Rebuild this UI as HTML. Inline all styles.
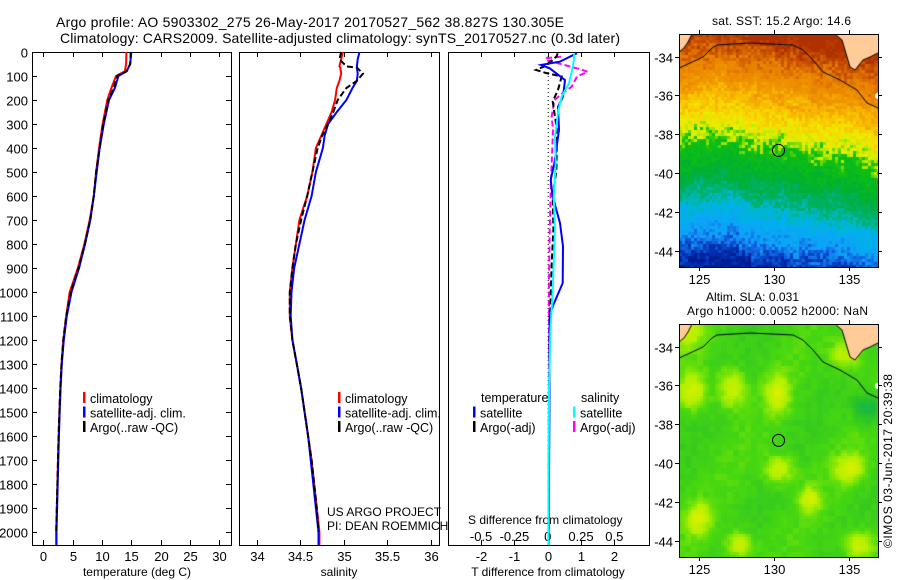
<!DOCTYPE html>
<html><head><meta charset="utf-8">
<style>
html,body{margin:0;padding:0;background:#fff;width:900px;height:580px;overflow:hidden}
#wrap{position:relative;width:900px;height:580px}
canvas{position:absolute}
svg{position:absolute;left:0;top:0}
text{font-family:"Liberation Sans",sans-serif;fill:#000}
</style></head><body>
<div id="wrap">
<canvas id="sst" width="199" height="233" style="left:679px;top:34px"></canvas>
<canvas id="sla" width="199" height="233" style="left:679px;top:324px"></canvas>
<svg id="svg" width="900" height="580" xmlns="http://www.w3.org/2000/svg">
<text x="56" y="27" font-size="14" textLength="508">Argo profile: AO 5903302_275 26-May-2017 20170527_562 38.827S 130.305E</text>
<text x="60" y="43" font-size="14" textLength="560">Climatology: CARS2009. Satellite-adjusted climatology: synTS_20170527.nc (0.3d later)</text>
<text x="712" y="25" font-size="12" textLength="139">sat. SST: 15.2 Argo: 14.6</text>
<text x="706" y="301" font-size="12" textLength="93">Altim. SLA: 0.031</text>
<text x="687" y="315" font-size="12" textLength="181">Argo h1000: 0.0052 h2000: NaN</text>
<text transform="translate(892,548) rotate(-90)" font-size="12" textLength="174">©IMOS 03-Jun-2017 20:39:38</text>
<text x="327" y="516" font-size="12">US ARGO PROJECT</text>
<text x="327" y="530" font-size="12">PI: DEAN ROEMMICH</text>
<text x="468" y="524" font-size="12">S difference from climatology</text>
<text x="137" y="576" font-size="12" text-anchor="middle">temperature (deg C)</text>
<text x="339" y="576" font-size="12" text-anchor="middle">salinity</text>
<text x="548" y="576" font-size="12" text-anchor="middle">T difference from climatology</text>
</svg>
</div>
<script>
// ---------- data ----------
const depthTicks=[0,100,200,300,400,500,600,700,800,900,1000,1100,1200,1300,1400,1500,1600,1700,1800,1900,2000];
const tempTicks=[0,5,10,15,20,25,30];
const salTicks=[34,34.5,35,35.5,36];
const tdiffTicks=[-2,-1,0,1,2];
const sdiffTicks=[-0.5,-0.25,0,0.25,0.5];
const sdiffLabels=["-0.5","-0.25","0","0.25","0.5"];

const depthT=[0,50,80,100,150,200,300,400,500,600,700,800,900,1000,1100,1200,1300,1400,1500,1600,1700,1800,1900,2000,2054];
const climT=[14.15,14.1,13.9,12.4,11.6,10.9,10.1,9.5,9.0,8.6,7.9,7.0,5.9,4.5,3.9,3.4,3.1,2.9,2.75,2.6,2.5,2.4,2.3,2.2,2.2];
const satT=[15.0,14.8,14.2,12.8,12.2,11.2,10.3,9.6,9.1,8.6,8.0,7.1,6.1,4.8,4.0,3.5,3.15,2.95,2.8,2.65,2.55,2.45,2.35,2.25,2.25];
const argoT=[14.9,14.8,14.2,12.6,12.0,11.1,10.2,9.6,9.0,8.6,8.0,7.1,6.0,4.7,3.9,3.4,3.1,2.9,2.75,2.6,2.5,2.4,2.3,2.2,2.2];

const depthS=[0,30,60,65,90,120,150,200,250,300,350,400,500,600,700,800,900,1000,1100,1200,1300,1400,1500,1600,1700,1800,1900,2000,2054];
const climS=[34.99,34.97,34.95,34.96,34.97,34.95,34.92,34.90,34.86,34.80,34.74,34.68,34.64,34.58,34.49,34.45,34.41,34.38,34.38,34.41,34.46,34.51,34.55,34.59,34.63,34.66,34.69,34.72,34.72];
const satS=[35.18,35.16,35.15,35.15,35.16,35.15,35.10,35.03,34.92,34.82,34.78,34.76,34.68,34.63,34.55,34.49,34.43,34.40,34.39,34.41,34.46,34.51,34.55,34.59,34.62,34.65,34.68,34.71,34.71];
const argoS=[34.97,34.95,35.03,35.15,35.22,35.15,35.03,34.93,34.88,34.82,34.75,34.70,34.64,34.58,34.51,34.45,34.41,34.38,34.38,34.41,34.46,34.51,34.55,34.59,34.63,34.66,34.69,34.71,34.71];

const depthSatTd=[5,40,54,68,117,186,228,325,463,533,602,713,810,963,1060,1100,1500,2054];
const satTd=[0.88,0.37,-0.2,0.06,0.52,0.46,0.31,0.34,0.2,0.09,0.15,0.37,0.46,0.45,0.15,0.06,0.05,0.03];
const depthArgoTd=[5,19,60,75,88,102,158,206,325,491,602,741,880,1019,1200,2000];
const argoTd=[0.3,0.26,-0.1,-0.35,-0.04,0.42,0.31,0.15,0.28,0.26,0.15,0.17,0.12,0.09,0.05,0.03];
const depthSatSd=[5,40,82,130,186,242,352,463,602,741,880,1019,1158,1400,2054];
const satSd=[0.2,0.195,0.18,0.16,0.105,0.08,0.055,0.06,0.045,0.055,0.045,0.035,0.02,0.01,0.005];
const depthArgoSd=[19,26,33,72,82,102,144,172,200,269,325,394,533,741,950,1200,2054];
const argoSd=[0.1,-0.01,-0.015,0.245,0.30,0.22,0.18,0.11,0.05,0.03,0.04,0.035,0.025,0.015,0.01,0.01,0.005];

const latTicks=[-34,-36,-38,-40,-42,-44];
const lonTicks=[125,130,135];
const argoLon=130.305, argoLat=-38.827;

// ---------- scales ----------
const NS="http://www.w3.org/2000/svg";
const svg=document.getElementById('svg');
const TOP=52,BOT=545;
const yD=d=>TOP+d*0.24;
const xT=t=>43.3+t*5.87;
const xS=s=>256.7+(s-34)*87.1;
const xTd=v=>547.7+v*33.3;
const xSd=v=>547.7+v*133.2;
const mapX=lon=>679+(lon-123.67)*15.0;
const mapY=lat=>34+(-32.83-lat)*19.4;

function el(tag,attrs,parent){const e=document.createElementNS(NS,tag);for(const k in attrs)e.setAttribute(k,attrs[k]);(parent||svg).appendChild(e);return e;}
function line(x1,y1,x2,y2,name,extra){const e=el('line',Object.assign({x1,y1,x2,y2,stroke:'#000','stroke-width':1},extra||{}));

return e;}
function txt(x,y,s,name,anchor,size){const e=el('text',{x,y,'font-size':size||13,'text-anchor':anchor||'middle'});e.textContent=s;

return e;}

const panels=[{x0:32,x1:231},{x0:239,x1:439},{x0:448,x1:649}];
panels.forEach((p,i)=>{const r=el('rect',{x:p.x0+0.5,y:TOP+0.5,width:p.x1-p.x0,height:BOT-TOP,fill:'none',stroke:'#000','stroke-width':1});

});

depthTicks.forEach(d=>{const y=Math.round(yD(d))+0.5;
line(32,y,37,y,'depth-tick');line(226,y,231,y,'depth-tick');
txt(28,y+5,String(d),'depth-tick-label','end');});
function xticks(vals,fx,labels,ly,nm){vals.forEach((v,i)=>{const x=Math.round(fx(v))+0.5;
line(x,TOP,x,TOP+5,nm+'-tick');line(x,BOT-5,x,BOT,nm+'-tick');
txt(x,ly,labels?labels[i]:String(v),nm+'-tick-label');});}
xticks(tempTicks,xT,null,561,'temperature');
xticks(salTicks,xS,null,561,'salinity');
xticks(tdiffTicks,xTd,null,561,'t-diff');
sdiffTicks.forEach((v,i)=>txt(xSd(v),541,sdiffLabels[i],'s-diff-tick-label'));

line(xTd(0)+0.5,TOP,xTd(0)+0.5,BOT,'zero-line',{'stroke-dasharray':'1,3'});

function series(ds,vs,fx,color,name,dash){const pts=ds.map((d,i)=>fx(vs[i]).toFixed(1)+','+yD(d).toFixed(1)).join(' ');
const a={points:pts,fill:'none',stroke:color,'stroke-width':2};if(dash)a['stroke-dasharray']=dash;
const e=el('polyline',a);

}
series(depthT,climT,xT,'#ff0000','temp-climatology-line');
series(depthT,satT,xT,'#0000ff','temp-satellite-line');
series(depthT.slice(0,24),argoT.slice(0,24),xT,'#000000','temp-argo-line','6,3');
series(depthS,climS,xS,'#ff0000','salinity-climatology-line');
series(depthS,satS,xS,'#0000ff','salinity-satellite-line');
series(depthS.slice(0,28),argoS.slice(0,28),xS,'#000000','salinity-argo-line','6,3');
series(depthArgoSd,argoSd,xSd,'#ff00ff','sdiff-argo-line','6,3');
series(depthArgoTd,argoTd,xTd,'#000000','tdiff-argo-line','6,3');
series(depthSatTd,satTd,xTd,'#0000ff','tdiff-satellite-line');
series(depthSatSd,satSd,xSd,'#00ffff','sdiff-satellite-line');

function leg(x,y,color,label,name){const b=el('rect',{x:x,y:y-6,width:2.5,height:11,fill:color});


txt(x+7,y+5,label,name,'start',12.5);}
[['#ff0000','climatology'],['#0000ff','satellite-adj. clim.'],['#000','Argo(..raw -QC)']].forEach((l,i)=>leg(83,398+i*14.5,l[0],l[1],'temp-legend-entry'));
[['#ff0000','climatology'],['#0000ff','satellite-adj. clim.'],['#000','Argo(..raw -QC)']].forEach((l,i)=>leg(338,398+i*14.5,l[0],l[1],'sal-legend-entry'));
txt(481,402,'temperature','diff-legend-temperature','start',12.5);
txt(581,402,'salinity','diff-legend-salinity','start',12.5);
leg(473,412.5,'#0000ff','satellite','diff-legend-temp-satellite');
leg(473,427,'#000','Argo(-adj)','diff-legend-temp-argo');
leg(573,412.5,'#00ffff','satellite','diff-legend-sal-satellite');
leg(573,427,'#ff00ff','Argo(-adj)','diff-legend-sal-argo');

// ---------- maps ----------
function hash(i,j,s){let h=(i*374761393+j*668265263+s*1442695041)|0;h=(h^(h>>>13))*1274126177|0;return ((h^(h>>>16))>>>0)/4294967295;}
function lerpC(stops,v){if(v<=stops[0][0])return stops[0][1];for(let k=1;k<stops.length;k++){if(v<=stops[k][0]){const a=stops[k-1],b=stops[k],t=(v-a[0])/(b[0]-a[0]);return a[1].map((c,n)=>Math.round(c+(b[1][n]-c)*t));}}return stops[stops.length-1][1];}
const sstStops=[[0,[176,48,0]],[14,[200,80,0]],[30,[232,128,0]],[50,[240,150,0]],[66,[248,184,0]],[80,[248,216,0]],[94,[232,240,0]],[102,[176,232,0]],[110,[16,192,16]],[140,[0,176,48]],[158,[0,176,112]],[170,[0,184,192]],[182,[0,176,240]],[200,[16,160,248]],[212,[16,96,224]],[225,[0,48,176]],[236,[0,26,144]]];
const blobs=[[13,66,14,18],[51,63,14,20],[97,69,12,20],[99,144,15,14],[170,143,16,14],[59,219,13,13],[178,219,16,14],[129,174,10,13],[18,193,12,16]];
function drawMap(id,mode){const c=document.getElementById(id).getContext('2d');
for(let i=0;i<67;i++)for(let j=0;j<78;j++){const px=i*3,py=j*3;let col;
if(mode==='sst'){const eff=py-Math.max(0,px-110)*0.35+6*Math.sin(px/23)+(hash(i,j,1)-0.5)*20+(hash(i>>2,j>>2,3)-0.5)*10;col=lerpC(sstStops,eff);}
else{let v=0.2+(hash(i>>1,j>>1,2)-0.5)*0.1+0.06*Math.sin(px/17+py/29);
blobs.forEach(b=>{const d2=((px-b[0])/b[2])**2+((py-b[1])/b[3])**2;v+=0.45*Math.exp(-d2);});
const dt=((px-187)**2+(py-83)**2)/200;v-=0.4*Math.exp(-dt);
const dc=Math.min(((px-5)**2+(py-5)**2)/300,((px-165)**2+(py-30)**2)/250);v+=0.4*Math.exp(-dc);
col=lerpC([[-0.3,[0,176,112]],[0,[40,192,40]],[0.25,[72,216,16]],[0.5,[176,240,0]],[0.75,[220,240,0]]],v);}
c.fillStyle='rgb('+col.join(',')+')';c.fillRect(px,py,3,3);}
c.fillStyle='#ffcc99';
c.beginPath();[[0,0],[13,0],[9,8],[5,14],[0,18]].forEach((p,k)=>k?c.lineTo(p[0],p[1]):c.moveTo(p[0],p[1]));c.fill();
c.beginPath();[[156,0],[163,6],[171,33],[176,36],[184,26],[191,23],[199,19],[199,0]].forEach((p,k)=>k?c.lineTo(p[0],p[1]):c.moveTo(p[0],p[1]));c.fill();
c.strokeStyle='#000';c.lineWidth=1;c.beginPath();
[[0,34],[11,29],[24,23],[33,14],[38,11],[71,9],[114,11],[124,16],[134,26],[144,38],[161,46],[178,56],[188,69],[199,74]].forEach((p,k)=>k?c.lineTo(p[0],p[1]):c.moveTo(p[0],p[1]));c.stroke();
c.beginPath();[[13,0],[9,8],[5,14],[0,18]].forEach((p,k)=>k?c.lineTo(p[0],p[1]):c.moveTo(p[0],p[1]));c.stroke();
c.beginPath();[[156,0],[163,6],[171,33],[176,36],[184,26],[191,23],[199,19]].forEach((p,k)=>k?c.lineTo(p[0],p[1]):c.moveTo(p[0],p[1]));c.stroke();
c.fillStyle='#fff';c.beginPath();c.arc(199,62,3,0,7);c.fill();}
drawMap('sst','sst');drawMap('sla','sla');

[0,290].forEach((off,m)=>{const r=el('rect',{x:679.5,y:34.5+off,width:199,height:233,fill:'none',stroke:'#000'});


latTicks.forEach(l=>{const y=Math.round(mapY(l))+off+0.5;line(675,y,679,y,'map-lat-tick');line(878,y,882,y,'map-lat-tick');txt(673,y+5,String(l),'map-lat-label','end');});
lonTicks.forEach(l=>{const x=Math.round(mapX(l))+0.5;line(x,30+off,x,34+off,'map-lon-tick');line(x,267+off,x,271+off,'map-lon-tick');txt(x,284+off,String(l),'map-lon-label');});
const c=el('circle',{cx:mapX(argoLon),cy:mapY(argoLat)+off,r:6,fill:'none',stroke:'#000','stroke-width':1});

});
</script>
</body></html>
